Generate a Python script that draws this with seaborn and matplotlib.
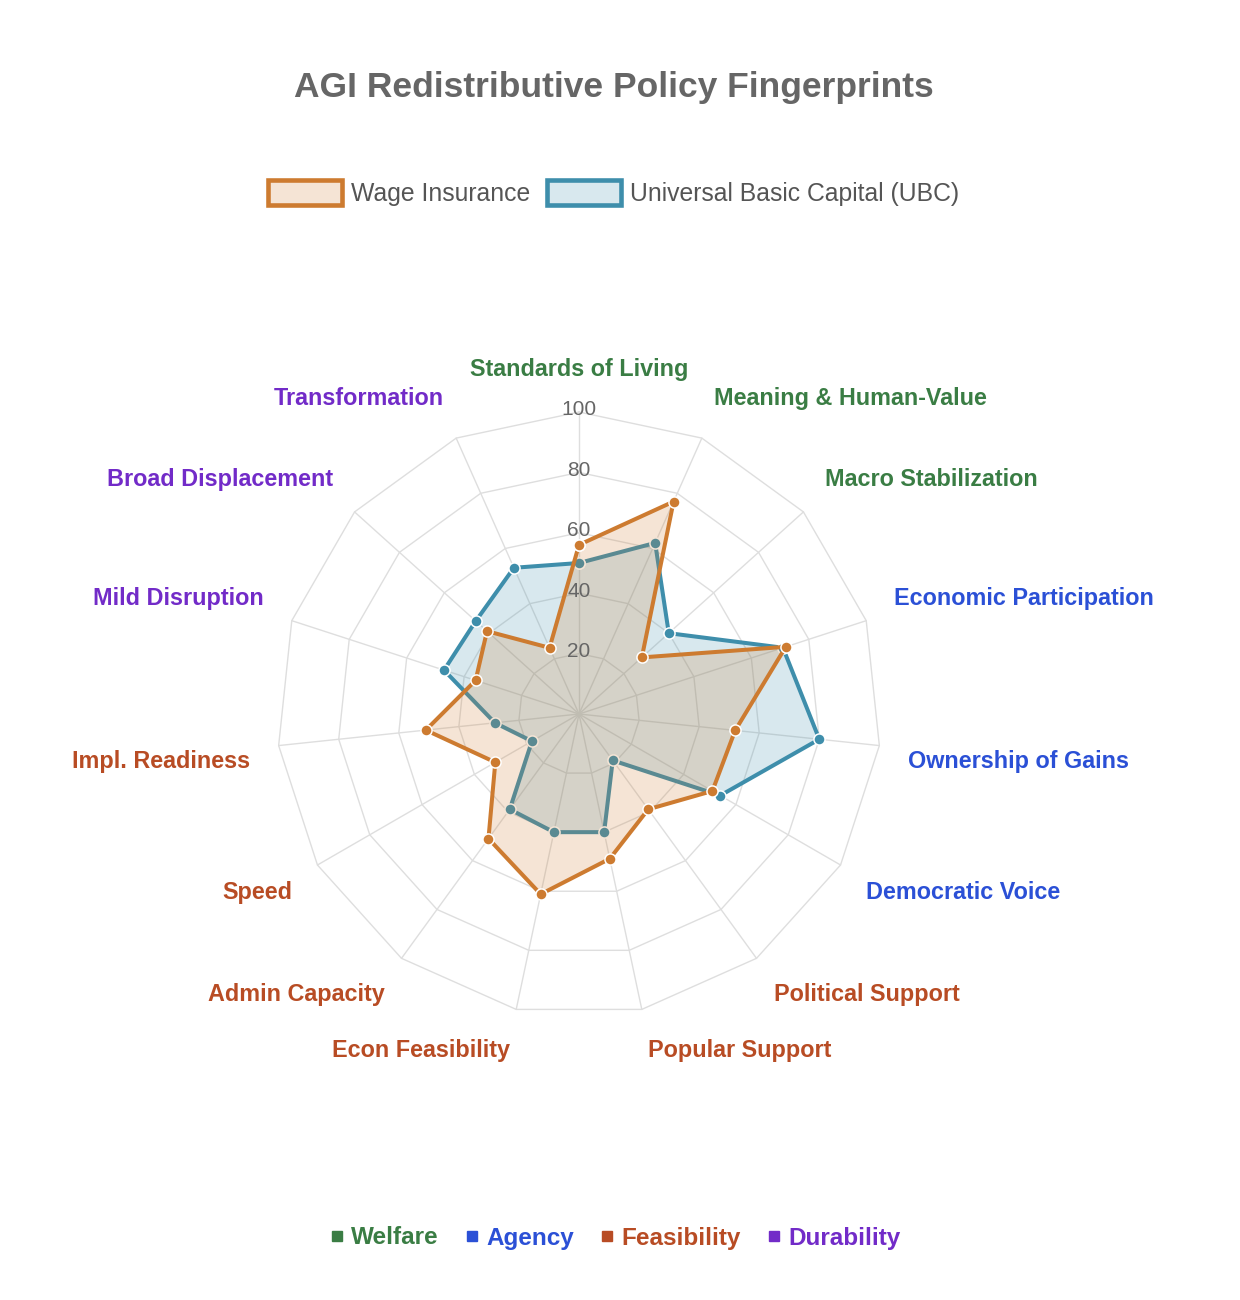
import matplotlib
matplotlib.use("Agg")
import numpy as np
import pandas as pd
import seaborn as sns
import matplotlib.pyplot as plt
from matplotlib.patches import Patch
from matplotlib.lines import Line2D
from matplotlib.colors import to_rgba

# ---------------- data ----------------
axis_labels = [
    "Standards of Living", "Meaning & Human-Value", "Macro Stabilization",
    "Economic Participation", "Ownership of Gains", "Democratic Voice",
    "Political Support", "Popular Support", "Econ Feasibility",
    "Admin Capacity", "Speed", "Impl. Readiness",
    "Mild Disruption", "Broad Displacement", "Transformation",
]
axis_groups = [
    "Welfare", "Welfare", "Welfare",
    "Agency", "Agency", "Agency",
    "Feasibility", "Feasibility", "Feasibility",
    "Feasibility", "Feasibility", "Feasibility",
    "Durability", "Durability", "Durability",
]
wage_insurance = [56, 77, 28, 72, 52, 51, 39, 49, 61, 51, 32, 51, 36, 41, 24]
ubc_values = [50, 62, 40, 71, 80, 54, 19, 40, 40, 39, 18, 28, 47, 46, 53]
series_names = ["Wage Insurance", "Universal Basic Capital (UBC)"]
radial_ticks = [20, 40, 60, 80, 100]
group_names = ["Welfare", "Agency", "Feasibility", "Durability"]

# ---------------- style ----------------
sns.set_theme(style="white")
plt.rcParams["font.family"] = ["Liberation Sans", "DejaVu Sans"]

group_colors = {
    "Welfare": "#3A7D44",
    "Agency": "#2B50D6",
    "Feasibility": "#B84C24",
    "Durability": "#722BC8",
}
wage_color = "#CD7B30"
ubc_color = "#3E8EAB"
grid_color = "#DEDEDE"
text_grey = "#666666"

fig = plt.figure(figsize=(12.4, 13), dpi=100)
W, H = 1240, 1300
cx, cy, R = 579, 714, 302
ax = fig.add_axes([(cx - R) / W, (H - cy - R) / H, 2 * R / W, 2 * R / H],
                  projection="polar")
ax.set_theta_zero_location("N")
ax.set_theta_direction(-1)

n = len(axis_labels)
theta = np.arange(n) * 2 * np.pi / n
theta_closed = np.append(theta, 2 * np.pi)

# polygon grid
for r in radial_ticks:
    ax.plot(theta_closed, [r] * (n + 1), color=grid_color, lw=1.0, zorder=0,
            clip_on=False)
for t in theta:
    ax.plot([t, t], [0, 100], color=grid_color, lw=1.0, zorder=0, clip_on=False)


def draw_series(values, color, z):
    vals = np.append(values, values[0])
    d = pd.DataFrame({"theta": theta_closed, "value": vals})
    ax.fill(d["theta"], d["value"], color=to_rgba(color, 0.2), zorder=z,
            lw=0)
    sns.lineplot(data=d, x="theta", y="value", ax=ax, color=color, lw=2.9,
                 marker="o", markersize=8, markeredgecolor="white",
                 markeredgewidth=1.1, sort=False, estimator=None,
                 legend=False, zorder=z + 1)


draw_series(ubc_values, ubc_color, 2)
draw_series(wage_insurance, wage_color, 4)

ax.set_ylim(0, 100)
ax.set_xticks([])
ax.set_yticks([])
ax.grid(False)
ax.spines["polar"].set_visible(False)
ax.set_xlabel("")
ax.set_ylabel("")

# radial tick labels
for r in radial_ticks:
    ax.annotate(str(r), xy=(0, r), xytext=(0, 1.5), textcoords="offset points",
                ha="center", va="center", fontsize=15, color=text_grey,
                zorder=10, annotation_clip=False)

# axis labels
for t, lab, grp in zip(theta, axis_labels, axis_groups):
    s, c = np.sin(t), np.cos(t)
    if abs(s) < 1e-6:
        ha = "center"
    elif s > 0:
        ha = "left"
    else:
        ha = "right"
    sign = 1 if c > 0 else -1
    ax.annotate(lab, xy=(t, 109.6), xytext=(0, 9.4 * sign),
                textcoords="offset points", ha=ha, va="center",
                fontsize=16.8, fontweight="bold", color=group_colors[grp],
                annotation_clip=False)

# title
fig.text(614 / W, 1 - 88 / H, "AGI Redistributive Policy Fingerprints",
         ha="center", va="center", fontsize=25.5, fontweight="bold",
         color=text_grey)

# top legend
handles = [
    Patch(facecolor=to_rgba(wage_color, 0.2), edgecolor=wage_color, lw=3.3),
    Patch(facecolor=to_rgba(ubc_color, 0.2), edgecolor=ubc_color, lw=3.3),
]
leg = fig.legend(handles, series_names, loc="center",
                 bbox_to_anchor=(613.5 / W, 1 - 193 / H), ncol=2,
                 frameon=False, fontsize=17.8, handlelength=3.0,
                 handleheight=1.15, handletextpad=0.35, columnspacing=0.7)
for txt in leg.get_texts():
    txt.set_color("#555555")

# bottom category legend
ghandles = [Line2D([], [], marker="s", linestyle="", markersize=7,
                   color=group_colors[g]) for g in group_names]
gleg = fig.legend(ghandles, group_names, loc="center",
                  bbox_to_anchor=(615.5 / W, 1 - 1238 / H), ncol=4,
                  frameon=False, handlelength=0.5, handletextpad=0.35,
                  columnspacing=1.1,
                  prop={"size": 17.5, "weight": "bold"})
for txt, g in zip(gleg.get_texts(), group_names):
    txt.set_color(group_colors[g])

fig.savefig("out.png", dpi=100, facecolor="white")
